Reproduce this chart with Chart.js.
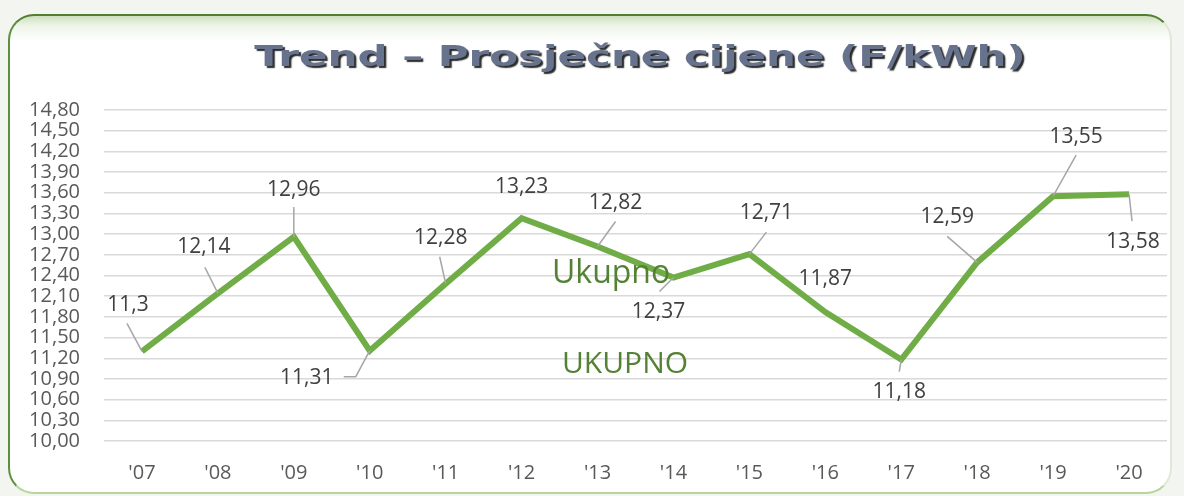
<!DOCTYPE html>
<html>
<head>
<meta charset="utf-8">
<script src="https://cdn.jsdelivr.net/npm/chart.js@4"></script>
<style>
  html, body { margin: 0; padding: 0; background: #fff; }
  #wrap { position: relative; width: 1184px; height: 496px; overflow: hidden; background: #f3f6f0; }
  #frame {
    position: absolute; left: 8px; top: 14px; width: 1160px; height: 476px;
    border-style: solid; border-width: 2px;
    border-color: #4f7f2f #dfe8d6 #b5d69c #5e8f3e;
    border-radius: 26px;
    background: linear-gradient(#cfe0bf 0px, #eef5e8 10px, #ffffff 26px);
  }
  #title {
    position: absolute; left: 640px; top: 40px;
    font: bold 28px "DejaVu Sans", sans-serif; color: #67728c;
    text-shadow: 1.5px 1.5px 1px #2b2b2b;
    transform: translateX(-50%) scaleX(1.5);
    white-space: nowrap;
  }
  .note { position: absolute; font-family: "Open Sans", sans-serif; color: #548235; white-space: nowrap; }
  canvas { position: absolute; left: 0; top: 0; }
</style>
</head>
<body>
<div id="wrap">
  <div id="frame"></div>
  <canvas id="c" width="1184" height="496"></canvas>
  <div id="title">Trend – Prosječne cijene (F/kWh)</div>
  <div class="note" style="left:552px; top:249px; font-size:32px;">Ukupno</div>
  <div class="note" style="left:562px; top:341px; font-size:30px;">UKUPNO</div>
</div>
<script>
// categories and values
const years = ["'07", "'08", "'09", "'10", "'11", "'12", "'13", "'14", "'15", "'16", "'17", "'18", "'19", "'20"];
const prices = [11.3, 12.14, 12.96, 11.31, 12.28, 13.23, 12.82, 12.37, 12.71, 11.87, 11.18, 12.59, 13.55, 13.58];
const yMin = 10.0;
const yMax = 14.8;
const yStep = 0.3;

// data label placement (offset from the point) and leader line bends
const labelOffsets = [[-14, -46], [-14, -46], [0, -47], [-63, 27], [-5, -46], [0, -31], [18, -44],
                      [-15, 34], [17, -41], [0, -33], [-2, 32], [-30, -45], [23, -59], [4, 48]];
const leaderPaths = [[[-15, -28]], [[-13, -26]], [[0, -30]], [[-26, 26], [-14, 26]], [[-6, -27]], null, [[18, -25]],
                     [[-14, 14]], [[17, -22]], null, [[-2, 12]], [[-30, -26]], [[23, -41]], [[3, 27]]];

const fmt = v => String(v).replace('.', ',');

const dataLabels = {
    id: 'dataLabels',
    afterDatasetsDraw(chart) {
        const ctx = chart.ctx;
        const meta = chart.getDatasetMeta(0);
        ctx.save();
        meta.data.forEach((pt, i) => {
            const path = leaderPaths[i];
            if (path) {
                ctx.beginPath();
                ctx.strokeStyle = '#a6a6a6';
                ctx.lineWidth = 1.5;
                ctx.moveTo(pt.x + path[0][0], pt.y + path[0][1]);
                for (let k = 1; k < path.length; k++) ctx.lineTo(pt.x + path[k][0], pt.y + path[k][1]);
                ctx.lineTo(pt.x, pt.y);
                ctx.stroke();
            }
            ctx.fillStyle = '#404040';
            ctx.font = "21px 'Open Sans', sans-serif";
            ctx.textAlign = 'center';
            ctx.textBaseline = 'middle';
            ctx.fillText(fmt(prices[i]), pt.x + labelOffsets[i][0], pt.y + labelOffsets[i][1]);
        });
        ctx.restore();
    }
};

new Chart(document.getElementById('c'), {
    type: 'line',
    data: {
        labels: years,
        datasets: [{
            label: 'Ukupno',
            data: prices,
            borderColor: '#70ad47',
            borderWidth: 6,
            borderJoinStyle: 'miter',
            pointRadius: 0,
            tension: 0,
            fill: false
        }]
    },
    options: {
        responsive: false,
        animation: false,
        layout: { padding: { top: 110, right: 17, left: 0, bottom: 0 } },
        plugins: {
            legend: { display: false },
            tooltip: { enabled: false }
        },
        scales: {
            x: {
                offset: true,
                grid: { display: false },
                border: { display: false },
                ticks: { color: '#595959', font: { family: "'Open Sans', sans-serif", size: 20 }, padding: 12 },
                afterFit(s) { s.height = 55; }
            },
            y: {
                min: yMin,
                max: yMax,
                grid: { color: '#d9d9d9', lineWidth: 1.5, drawTicks: false },
                border: { display: false },
                ticks: {
                    stepSize: yStep,
                    autoSkip: false,
                    color: '#595959',
                    font: { family: "'Open Sans', sans-serif", size: 20, lineHeight: 1 },
                    padding: 24,
                    callback: v => v.toFixed(2).replace('.', ',')
                },
                afterFit(s) { s.width = 104; }
            }
        }
    },
    plugins: [dataLabels]
});
</script>
</body>
</html>
